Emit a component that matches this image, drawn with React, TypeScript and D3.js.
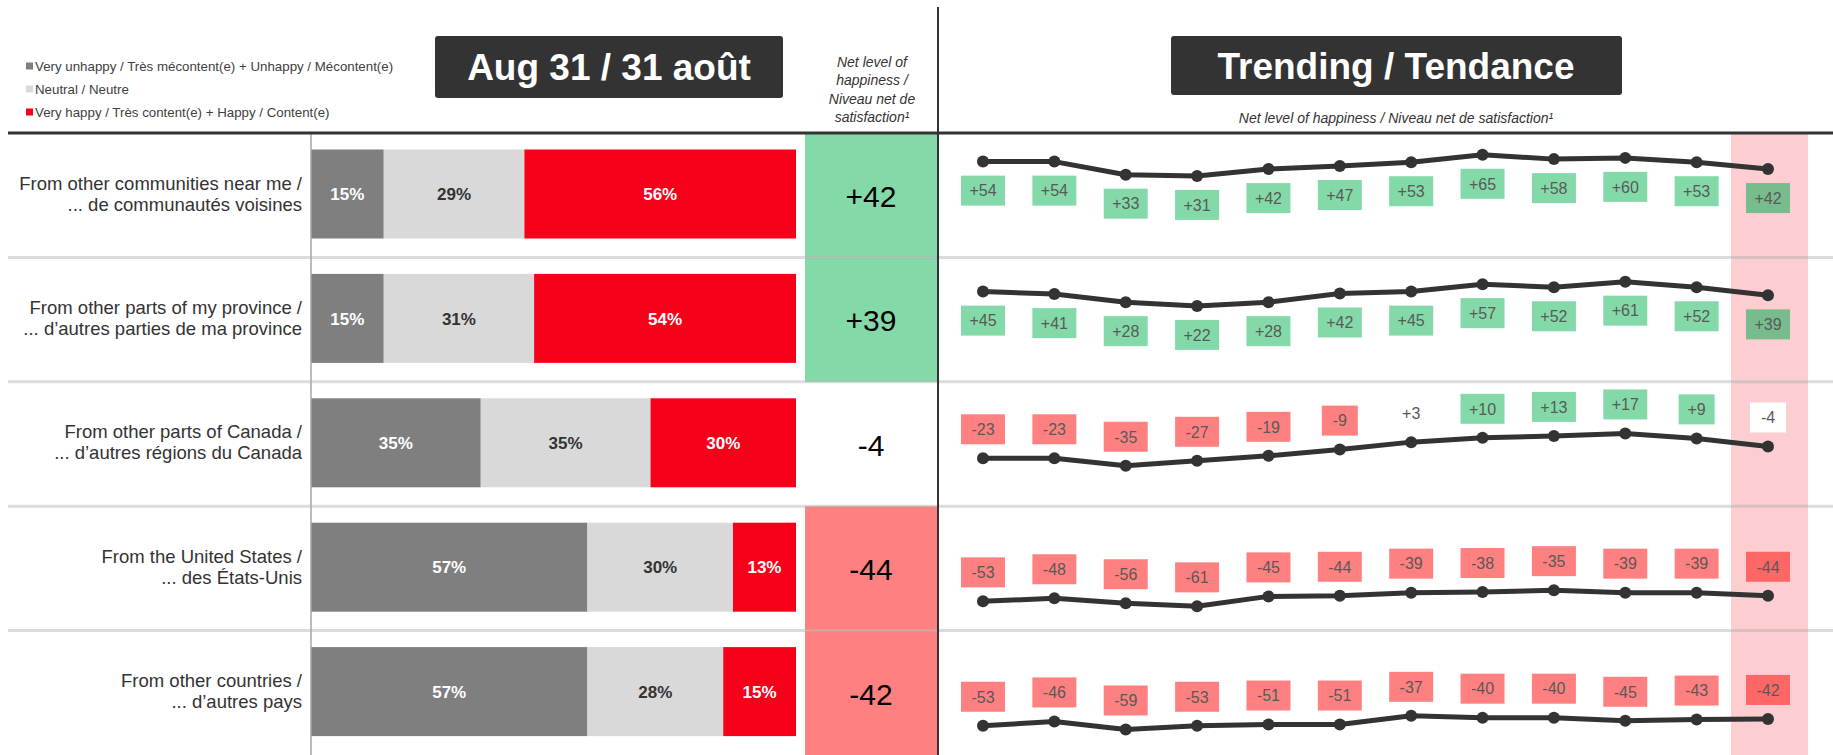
import React from 'react'
import * as d3 from 'd3'

// rows, two lines each
const categories = [
  ['From other communities near me /', '... de communautés voisines'],
  ['From other parts of my province /', '... d\u2019autres parties de ma province'],
  ['From other parts of Canada /', '... d\u2019autres régions du Canada'],
  ['From the United States /', '... des États-Unis'],
  ['From other countries /', '... d\u2019autres pays']
]

const unhappy = [15, 15, 35, 57, 57]
const neutral = [29, 31, 35, 30, 28]
const happy = [56, 54, 30, 13, 15]
const net = [42, 39, -4, -44, -42]

const trend1 = [54, 54, 33, 31, 42, 47, 53, 65, 58, 60, 53, 42]
const trend2 = [45, 41, 28, 22, 28, 42, 45, 57, 52, 61, 52, 39]
const trend3 = [-23, -23, -35, -27, -19, -9, 3, 10, 13, 17, 9, -4]
const trend4 = [-53, -48, -56, -61, -45, -44, -39, -38, -35, -39, -39, -44]
const trend5 = [-53, -46, -59, -53, -51, -51, -37, -40, -40, -45, -43, -42]
const trends = [trend1, trend2, trend3, trend4, trend5]

const legendLabels = [
  'Very unhappy / Très mécontent(e) + Unhappy / Mécontent(e)',
  'Neutral / Neutre',
  'Very happy / Très content(e) + Happy / Content(e)'
]

const W = 1833
const H = 755
const FONT = '"Liberation Sans", Arial, sans-serif'

const GREEN = '#83d9a8'
const RED_SOFT = '#ff8080'
const segColors = ['#7f7f7f', '#d9d9d9', '#f70019']
const segText = ['#ffffff', '#333333', '#ffffff']

const tableTop = 133
const rowH = (H - tableTop) / categories.length

const fmt = (v: number) => (v > 0 ? `+${v}` : `${v}`)
const boxFill = (v: number, last: boolean) => {
  if (Math.abs(v) < 5) return last ? '#ffffff' : 'none'
  if (v > 0) return last ? '#78bb8c' : GREEN
  return last ? '#ff6666' : RED_SOFT
}
const netFill = (v: number) => (v >= 5 ? GREEN : v <= -5 ? RED_SOFT : 'none')

const App = () => {
  const xBar = d3.scaleLinear().domain([0, 100]).range([311, 796])
  const xTrend = d3.scalePoint<number>().domain(d3.range(12)).range([983, 1768])
  const rowY = d3.scaleBand<number>().domain(d3.range(categories.length)).range([tableTop, H])
  const textW = (s: string, size: number) => s.length * size * 0.5

  const line = d3.line<number>().x((d, i) => xTrend(i) as number).y(d => d)

  return (
    <div style={{ position: 'absolute', left: 0, top: 0 }}>
      <svg width={W} height={H} style={{ display: 'block', background: '#fff', fontFamily: FONT }}>
        {/* legend */}
        {legendLabels.map((l, i) => (
          <g key={l} transform={`translate(26, ${66 + i * 23})`}>
            <rect x={0} y={-3.5} width={7} height={7} fill={segColors[i]} />
            <text x={9} y={0} dy="0.35em" fontSize={13.3} fill="#404040">{l}</text>
          </g>
        ))}

        {/* titles */}
        <rect x={435} y={36} width={348} height={62} rx={3} fill="#333333" />
        <text x={609} y={67} dy="0.36em" textAnchor="middle" fontSize={37} fontWeight="bold" fill="#fff">Aug 31 / 31 août</text>
        <rect x={1171} y={36} width={451} height={59} rx={3} fill="#333333" />
        <text x={1396} y={65.5} dy="0.36em" textAnchor="middle" fontSize={37} fontWeight="bold" fill="#fff">Trending / Tendance</text>
        <text x={1396} y={118} dy="0.35em" textAnchor="middle" fontSize={14} fontStyle="italic" fill="#333">Net level of happiness / Niveau net de satisfaction¹</text>
        {['Net level of', 'happiness /', 'Niveau net de', 'satisfaction¹'].map((t, i) => (
          <text key={t} x={872} y={62 + i * 18.5} dy="0.35em" textAnchor="middle" fontSize={14} fontStyle="italic" fill="#333">{t}</text>
        ))}

        {/* highlight for latest wave */}
        <rect x={1731} y={tableTop} width={77} height={H - tableTop} fill="#fccdd1" />

        {categories.map((cat, r) => {
          const top = rowY(r) as number
          const cy = top + rowH / 2
          const barTop = top + 16.5
          const barH = 89
          const vals = [unhappy[r], neutral[r], happy[r]]
          let cum = 0
          const segs = vals.map(v => {
            const s = { x0: cum, v }
            cum += v
            return s
          })
          const yT = d3.scaleLinear().domain([-100, 100]).range([top + rowH, top])
          const pts = trends[r].map(v => yT(v))
          const below = net[r] > 0
          return (
            <g key={r}>
              {/* row label */}
              {cat.map((t, k) => (
                <text key={k} x={302} y={cy - 1.5 + (k - 0.5) * 21} dy="0.35em" textAnchor="end" fontSize={18.5} fill="#333">{t}</text>
              ))}
              {/* stacked bar */}
              {segs.map((s, k) => (
                <g key={k}>
                  <rect x={xBar(s.x0)} y={barTop} width={xBar(s.x0 + s.v) - xBar(s.x0)} height={barH} fill={segColors[k]} />
                  <text x={(xBar(s.x0) + xBar(s.x0 + s.v)) / 2} y={barTop + barH / 2} dy="0.36em" textAnchor="middle" fontSize={17} fontWeight="bold" fill={segText[k]}>{s.v}%</text>
                </g>
              ))}
              {/* net cell */}
              <rect x={805} y={top} width={133} height={rowH} fill={netFill(net[r])} />
              <text x={871} y={cy + 1} dy="0.36em" textAnchor="middle" fontSize={30} fill="#000">{fmt(net[r])}</text>
              {/* trend line */}
              <path d={line(pts) ?? ''} fill="none" stroke="#333" strokeWidth={5} strokeLinejoin="round" />
              {pts.map((y, i) => (
                <circle key={i} cx={xTrend(i)} cy={y} r={6} fill="#333" />
              ))}
              {trends[r].map((v, i) => {
                const s = fmt(v)
                const bw = textW(s, 16) + 20
                const by = pts[i] + (below ? 29 : -29)
                const last = i === trends[r].length - 1
                return (
                  <g key={`l${i}`}>
                    <rect x={(xTrend(i) as number) - bw / 2} y={by - 15} width={bw} height={30} fill={boxFill(v, last)} />
                    <text x={xTrend(i)} y={by} dy="0.36em" textAnchor="middle" fontSize={16} fill="#595959">{s}</text>
                  </g>
                )
              })}
              {/* separator */}
              {r > 0 && <line x1={8} x2={W} y1={top} y2={top} stroke="#b0b0b0" strokeOpacity={0.45} strokeWidth={3} />}
            </g>
          )
        })}

        {/* frame lines */}
        <line x1={311} x2={311} y1={tableTop} y2={H} stroke="#a6a6a6" strokeWidth={1.5} />
        <line x1={938} x2={938} y1={7} y2={H} stroke="#333" strokeWidth={2} />
        <line x1={8} x2={W} y1={tableTop} y2={tableTop} stroke="#333" strokeWidth={3} />
      </svg>
    </div>
  )
}

export default App
